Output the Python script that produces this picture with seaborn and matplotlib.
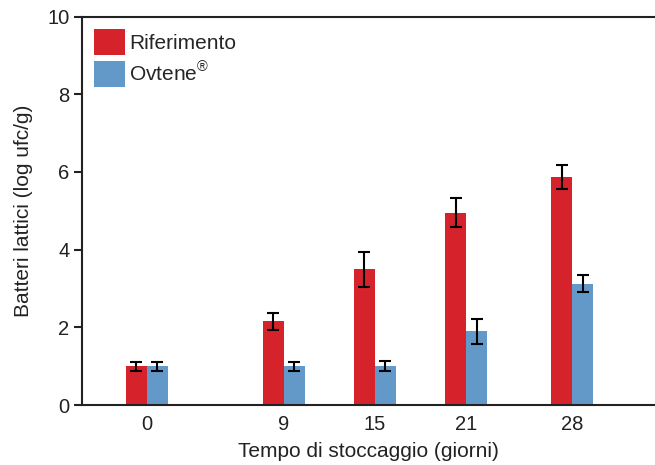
import numpy as np
import pandas as pd
import matplotlib
matplotlib.use("Agg")
import matplotlib.pyplot as plt
import seaborn as sns

# valori
giorni = [0, 9, 15, 21, 28]
serie = ["Riferimento", "Ovtene$^{®}$"]
riferimento = [1.0, 2.15, 3.5, 4.95, 5.87]
riferimento_err = [0.12, 0.23, 0.45, 0.38, 0.3]
ovtene = [1.0, 1.0, 1.0, 1.9, 3.12]
ovtene_err = [0.12, 0.12, 0.13, 0.32, 0.22]
colori = ["#d6222b", "#6399c9"]

df = pd.DataFrame({
    "giorno": giorni * 2,
    "valore": riferimento + ovtene,
    "serie": [serie[0]] * len(giorni) + [serie[1]] * len(giorni),
})
errori = [riferimento_err, ovtene_err]

sns.set_style("white")
plt.rcParams["font.family"] = ["Liberation Sans", "DejaVu Sans"]
plt.rcParams["mathtext.fontset"] = "custom"
plt.rcParams["mathtext.rm"] = "Liberation Sans"

fig = plt.figure(figsize=(6.55, 4.65), dpi=100)
ax = fig.add_axes([0.125, 0.129, 0.875, 0.8355])

sns.barplot(data=df, x="giorno", y="valore", hue="serie", native_scale=True,
            width=0.46, palette=colori, errorbar=None, saturation=1,
            linewidth=0, ax=ax)

# barre di errore sopra ogni colonna
for cont, err in zip(ax.containers, errori):
    xs = [b.get_x() + b.get_width() / 2 for b in cont]
    hs = [b.get_height() for b in cont]
    ax.errorbar(xs, hs, yerr=err, fmt="none", ecolor="black",
                elinewidth=1.5, capsize=4.5, capthick=1.5)

ax.set_xlim(-4.27, 33.43)
ax.set_ylim(0, 10)
ax.set_xticks(giorni)
ax.set_xticklabels([str(g) for g in giorni])
ax.set_yticks([0, 2, 4, 6, 8, 10])

for s in ["left", "bottom", "top"]:
    ax.spines[s].set_linewidth(1.5)
    ax.spines[s].set_color("#222222")
ax.spines["right"].set_visible(False)

ax.tick_params(axis="x", length=0, pad=7, labelsize=14.5, colors="#222222")
ax.tick_params(axis="y", left=True, length=6, width=1.5, pad=3,
               labelsize=14.5, colors="#222222")

ax.set_xlabel("Tempo di stoccaggio (giorni)", fontsize=15, color="#222222", labelpad=6)
ax.set_ylabel("Batteri lattici (log ufc/g)", fontsize=15, color="#222222", labelpad=10)

leg = ax.legend(loc="upper left", bbox_to_anchor=(0.022, 0.967), frameon=False,
                fontsize=15, handlelength=1.45, handleheight=1.5,
                handletextpad=0.2, labelspacing=0.3, borderaxespad=0,
                borderpad=0)

fig.savefig("out.png", dpi=100)
